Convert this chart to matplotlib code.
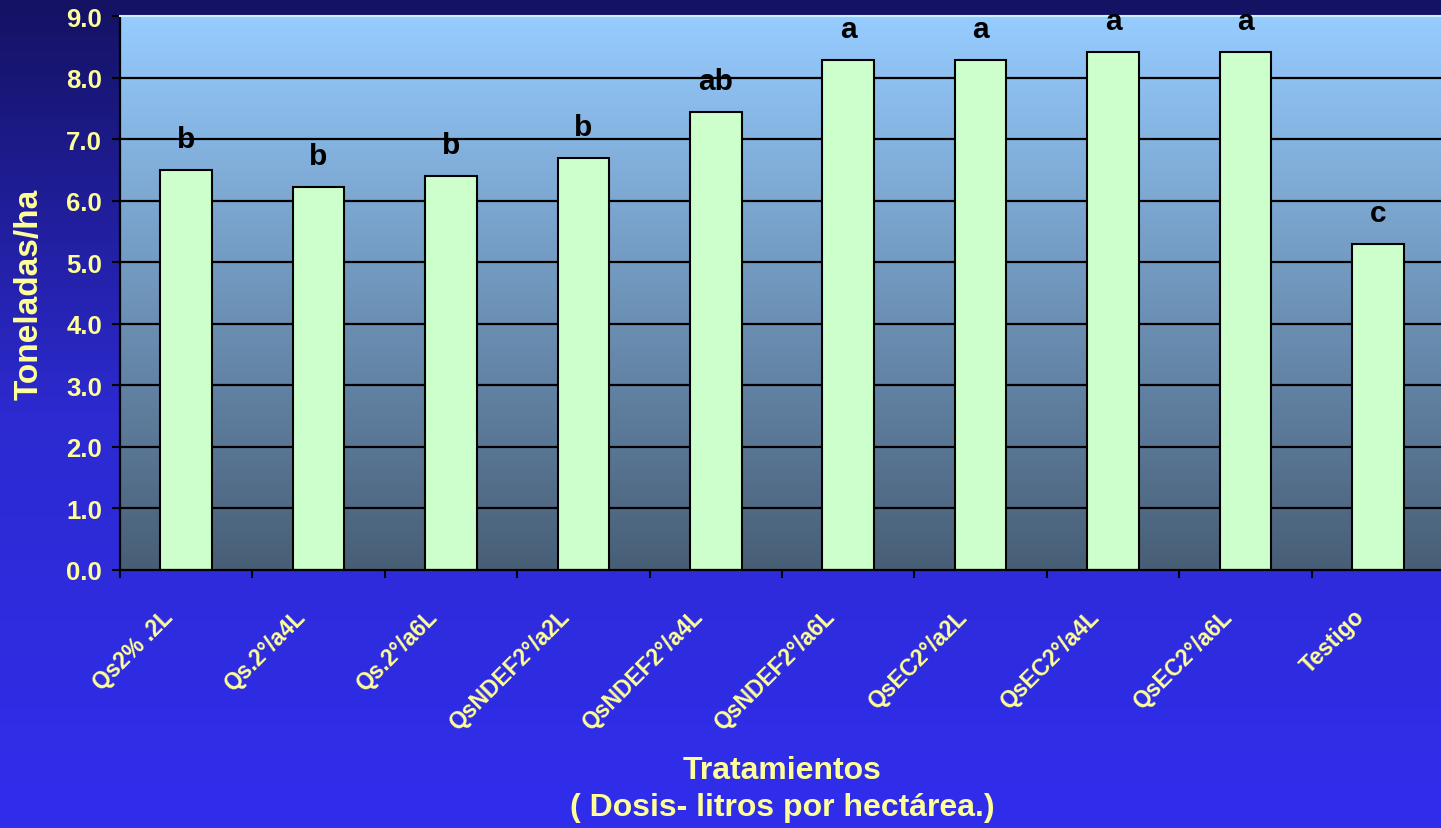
import numpy as np
import matplotlib.pyplot as plt
from matplotlib.colors import LinearSegmentedColormap
from matplotlib.transforms import ScaledTranslation

plt.rcParams['font.family'] = ['Liberation Sans', 'DejaVu Sans']

tratamientos = ['Qs2% .2L', 'Qs.2°/a4L', 'Qs.2°/a6L', 'QsNDEF2°/a2L', 'QsNDEF2°/a4L',
                'QsNDEF2°/a6L', 'QsEC2°/a2L', 'QsEC2°/a4L', 'QsEC2°/a6L', 'Testigo']
toneladas = [6.5, 6.23, 6.4, 6.7, 7.44, 8.28, 8.28, 8.41, 8.41, 5.29]
letras = ['b', 'b', 'b', 'b', 'ab', 'a', 'a', 'a', 'a', 'c']
y_ticks = [0, 1, 2, 3, 4, 5, 6, 7, 8, 9]

AMARILLO = '#FFFF99'

fig = plt.figure(figsize=(14.41, 8.29), dpi=100)

# fondo degradado de la figura (azul oscuro arriba -> azul vivo abajo)
bg = fig.add_axes([0, 0, 1, 1], zorder=-10)
cmap_fig = LinearSegmentedColormap.from_list('fig', ['#302EEC', '#2C2AD0', '#141262'])
bg.imshow(np.linspace(0, 1, 256).reshape(-1, 1), cmap=cmap_fig, aspect='auto',
          extent=(0, 1, 0, 1), origin='lower')
bg.axis('off')

ax = fig.add_axes([120 / 1441, 258 / 829, 1324 / 1441, 554 / 829])
n = len(tratamientos)
x = np.arange(n)

# degradado del área de trazado
cmap_ax = LinearSegmentedColormap.from_list('ax', ['#485E76', '#96CCFF'])
ax.imshow(np.linspace(0, 1, 256).reshape(-1, 1), cmap=cmap_ax, aspect='auto',
          extent=(-0.5, n - 0.5, 0, 9), origin='lower', zorder=0)
ax.set_facecolor('none')

for yv in y_ticks[1:-1]:
    ax.axhline(yv, color='black', lw=1.6, zorder=1)

ax.bar(x, toneladas, width=0.39, color='#CCFFCC', edgecolor='black', lw=1.5, zorder=2)

for xi, v, l in zip(x, toneladas, letras):
    ax.annotate(l, (xi, v), xytext=(0, 16.5), textcoords='offset points',
                ha='center', va='baseline', fontsize=21.5, fontweight='bold', color='black')

ax.set_xlim(-0.5, n - 0.5)
ax.set_ylim(0, 9)
ax.set_yticks(y_ticks)
ax.set_yticklabels([f'{v:.1f}' for v in y_ticks], fontsize=18.5, fontweight='bold', color=AMARILLO)

# marcas en los límites de categoría, etiquetas en el centro
ax.set_xticks(np.arange(n + 1) - 0.5)
ax.set_xticklabels([])
ax.set_xticks(x, minor=True)
ax.set_xticklabels(tratamientos, minor=True, rotation=45, ha='right', va='top',
                   rotation_mode='anchor', fontsize=16.5, fontweight='bold', color=AMARILLO)
ax.tick_params(axis='x', which='minor', length=0, pad=25)
ax.tick_params(axis='x', which='major', length=6, width=1.5, color='black')
ax.tick_params(axis='y', length=6, width=1.5, color='black', pad=7)
off = ScaledTranslation(-25 / 100, 0, fig.dpi_scale_trans)
for lab in ax.get_xticklabels(minor=True):
    lab.set_transform(lab.get_transform() + off)

for s in ['left', 'bottom']:
    ax.spines[s].set_color('black')
    ax.spines[s].set_linewidth(1.6)
ax.spines['top'].set_color('#C8F0FF')
ax.spines['top'].set_linewidth(1.5)
ax.spines['right'].set_visible(False)

ax.set_ylabel('Toneladas/ha', fontsize=24, fontweight='bold', color=AMARILLO)
ax.yaxis.set_label_coords(-0.057, 0.5)
ax.set_xlabel('Tratamientos\n( Dosis- litros por hectárea.)', fontsize=23,
              fontweight='bold', color=AMARILLO, linespacing=1.3, va='top')
ax.xaxis.set_label_coords(0.5, -0.334)

fig.savefig('out.png', dpi=100)
